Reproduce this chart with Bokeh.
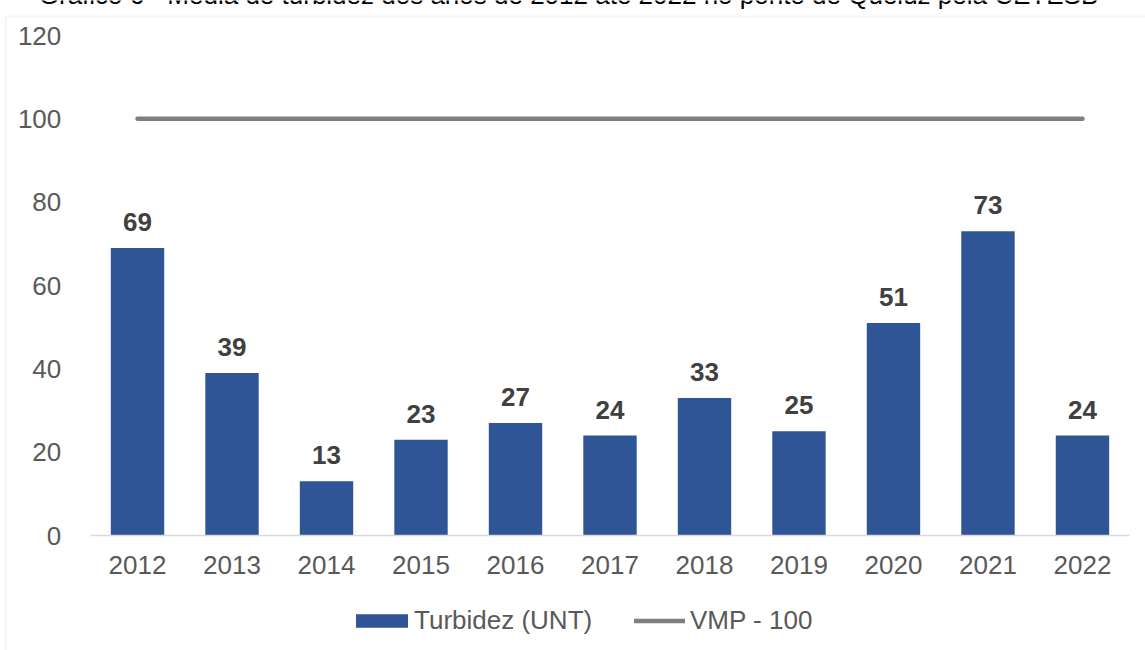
from bokeh.plotting import figure
from bokeh.models import (ColumnDataSource, Range1d, Legend, LegendItem, BoxAnnotation, FixedTicker,
                          LinearAxis, Label)
from bokeh.core.properties import value
from bokeh.embed import file_html
from bokeh.resources import INLINE

# ---- data ----
title_text = "Gráfico 6 - Média de turbidez dos anos de 2012 até 2022 no ponto de Queluz pela CETESB"
years = ["2012", "2013", "2014", "2015", "2016", "2017", "2018", "2019", "2020", "2021", "2022"]
turbidez = [69, 39, 13, 23, 27, 24, 33, 25, 51, 73, 24]
vmp = [100, 100, 100, 100, 100, 100, 100, 100, 100, 100, 100]
y_ticks = [0, 20, 40, 60, 80, 100, 120]
series_names = ["Turbidez (UNT)", "VMP - 100"]

FONT = "Liberation Sans"
FS = "26px"
BAR_COLOR = "#2F5597"
LINE_COLOR = "#7F7F7F"
TEXT_COLOR = "#595959"

pos = list(range(len(years)))
src = ColumnDataSource(dict(x=pos, val=turbidez, label=[str(v) for v in turbidez]))

# frame covers the full canvas; axes are pinned with fixed_location
p = figure(x_range=Range1d(-1.45, 10.667), y_range=Range1d(-27.6, 128.4), width=1145, height=650,
           output_backend="svg", toolbar_location=None,
           min_border_left=0, min_border_right=0, min_border_top=0, min_border_bottom=0,
           x_axis_location=None, y_axis_location=None)

p.outline_line_color = None
p.grid.visible = False
p.background_fill_color = "white"
p.border_fill_color = "white"

bars = p.vbar(x="x", top="val", width=0.565, source=src, fill_color=BAR_COLOR, line_color=None)
p.text(x="x", y="val", text="label", source=src, text_align="center", text_baseline="middle",
       y_offset=-26, text_font=value(FONT), text_font_style="bold", text_font_size=FS,
       text_color="#404040")
line = p.line(x=pos, y=vmp, line_color=LINE_COLOR, line_width=4.5, line_cap="round")

xaxis = LinearAxis(fixed_location=0, bounds=(-0.5, 10.5),
                   ticker=FixedTicker(ticks=pos),
                   major_label_overrides={i: y for i, y in zip(pos, years)})
xaxis.axis_line_color = "#D9D9D9"
xaxis.axis_line_width = 1.5
xaxis.major_tick_line_color = None
xaxis.minor_tick_line_color = None
xaxis.major_label_text_font = FONT
xaxis.major_label_text_font_size = FS
xaxis.major_label_text_color = TEXT_COLOR
xaxis.major_label_standoff = 14
p.add_layout(xaxis, "below")

yaxis = LinearAxis(fixed_location=-0.5, bounds=(0, 120), ticker=FixedTicker(ticks=y_ticks))
yaxis.axis_line_color = None
yaxis.major_tick_line_color = None
yaxis.minor_tick_line_color = None
yaxis.major_label_text_font = FONT
yaxis.major_label_text_font_size = FS
yaxis.major_label_text_color = TEXT_COLOR
yaxis.major_label_standoff = 23
p.add_layout(yaxis, "left")

common = dict(orientation="horizontal", border_line_color=None, background_fill_alpha=0,
              padding=0, margin=0, label_text_font=FONT, label_text_font_size=FS,
              label_text_color=TEXT_COLOR)
leg1 = Legend(items=[LegendItem(label=series_names[0], renderers=[bars])],
              location=(349, 14), glyph_width=65, glyph_height=17, label_standoff=0, **common)
leg2 = Legend(items=[LegendItem(label=series_names[1], renderers=[line])],
              location=(634, 14), glyph_width=51, glyph_height=17, label_standoff=5, **common)
p.add_layout(leg1)
p.add_layout(leg2)

border = BoxAnnotation(left=5, right=1300, top=16, bottom=800,
                       left_units="canvas", right_units="canvas", top_units="canvas", bottom_units="canvas",
                       fill_alpha=0, line_color="#D9D9D9", line_width=2, level="underlay")
p.add_layout(border)

# document title: in the reference only its lower edge shows above the chart box
title = Label(x=568, y=-6, x_units="canvas", y_units="canvas", text=title_text,
              text_align="center", text_baseline="middle", text_font=FONT, text_font_size=FS,
              text_color="#000000")
p.add_layout(title)

open("out.html", "w").write(file_html(p, INLINE))
